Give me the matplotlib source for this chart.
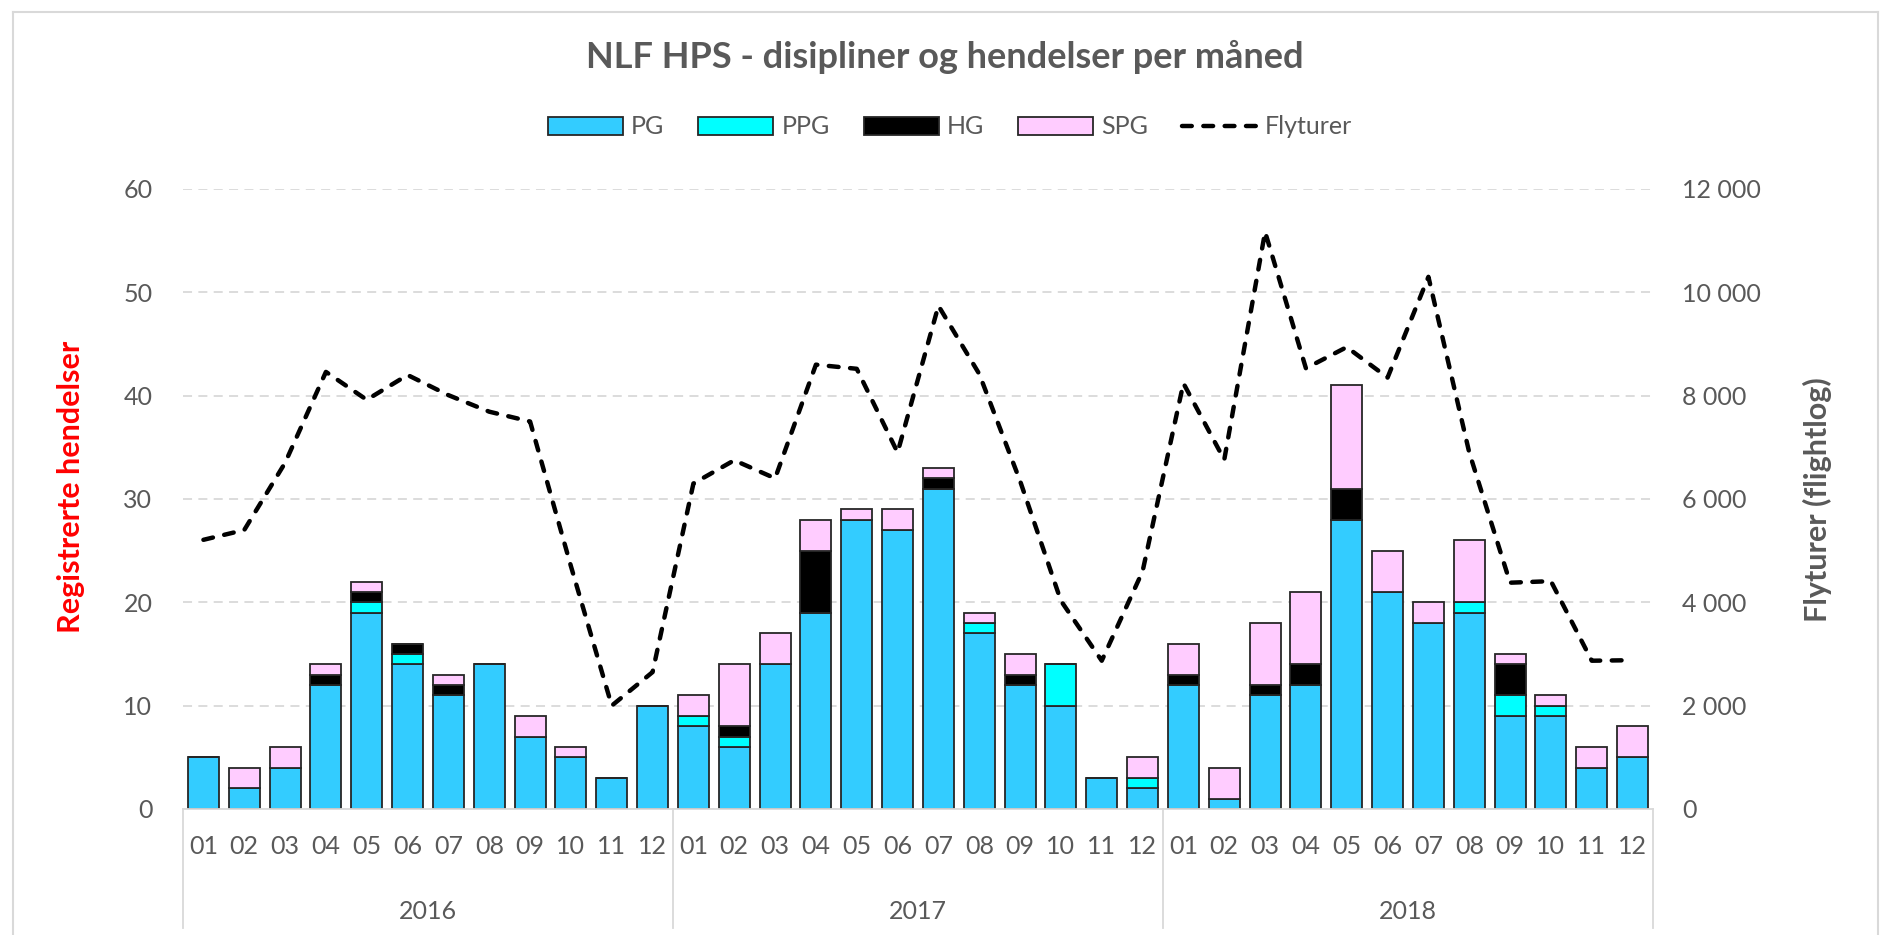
import matplotlib
matplotlib.use("Agg")
import matplotlib.pyplot as plt
from matplotlib.patches import Patch
from matplotlib.lines import Line2D
from matplotlib.ticker import FuncFormatter
import numpy as np

plt.rcParams['font.family'] = ['Lato', 'DejaVu Sans']

# data
years = ['2016', '2017', '2018']
months = ['01', '02', '03', '04', '05', '06', '07', '08', '09', '10', '11', '12']

pg = [5, 2, 4, 12, 19, 14, 11, 14, 7, 5, 3, 10,
      8, 6, 14, 19, 28, 27, 31, 17, 12, 10, 3, 2,
      12, 1, 11, 12, 28, 21, 18, 19, 9, 9, 4, 5]
ppg = [0, 0, 0, 0, 1, 1, 0, 0, 0, 0, 0, 0,
       1, 1, 0, 0, 0, 0, 0, 1, 0, 4, 0, 1,
       0, 0, 0, 0, 0, 0, 0, 1, 2, 1, 0, 0]
hg = [0, 0, 0, 1, 1, 1, 1, 0, 0, 0, 0, 0,
      0, 1, 0, 6, 0, 0, 1, 0, 1, 0, 0, 0,
      1, 0, 1, 2, 3, 0, 0, 0, 3, 0, 0, 0]
spg = [0, 2, 2, 1, 1, 0, 1, 0, 2, 1, 0, 0,
       2, 6, 3, 3, 1, 2, 1, 1, 2, 0, 0, 2,
       3, 3, 6, 7, 10, 4, 2, 6, 1, 1, 2, 3]
flyturer = [5210, 5400, 6700, 8460, 7920, 8400, 8010, 7690, 7500, 4700, 2000, 2650,
            6300, 6750, 6400, 8600, 8520, 6900, 9740, 8420, 6350, 4030, 2870, 4600,
            8240, 6760, 11170, 8530, 8940, 8350, 10300, 6900, 4380, 4410, 2870, 2880]

series = [('PG', pg, '#33CCFF'), ('PPG', ppg, '#00FFFF'),
          ('HG', hg, '#000000'), ('SPG', spg, '#FFCCFF')]

W, H = 1885, 935
fig = plt.figure(figsize=(W / 100, H / 100), dpi=100)
gray = '#595959'
light = '#D9D9D9'

# chart border
for xs, ys in [([13, 1878], [12, 12]), ([13, 13], [12, 935]), ([1878, 1878], [12, 935])]:
    fig.add_artist(Line2D([x / W for x in xs], [1 - y / H for y in ys], color=light, lw=1.5))

x0, x1, y0, y1 = 183, 1653, 189, 809
ax = fig.add_axes([x0 / W, 1 - y1 / H, (x1 - x0) / W, (y1 - y0) / H])

n = len(pg)
x = np.arange(n)
bottom = np.zeros(n)
for name, vals, col in series:
    v = np.array(vals, dtype=float)
    ax.bar(x, v, 0.76, bottom=bottom, color=col, edgecolor='#262626', linewidth=1.3, zorder=2)
    bottom += v

ax.set_xlim(-0.5, n - 0.5)
ax.set_ylim(0, 60)
ax.set_yticks(range(0, 61, 10))
ax.yaxis.grid(True, color=light, lw=1.3, linestyle=(0, (5, 3.5)))
ax.set_axisbelow(True)
for s in ['top', 'left', 'right']:
    ax.spines[s].set_visible(False)
ax.spines['bottom'].set_color(light)
ax.spines['bottom'].set_linewidth(1.3)
ax.tick_params(axis='y', length=0, pad=22, labelsize=18, labelcolor=gray)
ax.set_xticks(x)
ax.set_xticklabels(months * len(years))
ax.tick_params(axis='x', length=0, pad=19, labelsize=18, labelcolor=gray)

# year level of the category axis
for i, yr in enumerate(years):
    ax.text(i * 12 + 5.5, -0.166, yr, transform=ax.get_xaxis_transform(),
            ha='center', va='center', fontsize=18, color=gray)
for b in [-0.5, 11.5, 23.5, 35.5]:
    ax.plot([b, b], [0, -0.192], transform=ax.get_xaxis_transform(),
            color=light, lw=1.3, clip_on=False)

ax2 = ax.twinx()
ax2.plot(x, flyturer, color='black', lw=3.2, linestyle=(0, (2.2, 2.6)),
         dash_capstyle='round', zorder=3)
ax2.set_ylim(0, 12000)
ax2.set_yticks(range(0, 12001, 2000))
ax2.yaxis.set_major_formatter(FuncFormatter(lambda v, p: f'{int(v):,}'.replace(',', ' ')))
ax2.tick_params(axis='y', length=0, pad=21, labelsize=18, labelcolor=gray)
for s in ax2.spines.values():
    s.set_visible(False)

fig.text(945 / W, 1 - 57 / H, 'NLF HPS - disipliner og hendelser per måned',
         ha='center', va='center', fontsize=26, fontweight='bold', color=gray)
fig.text(71 / W, 1 - 487 / H, 'Registrerte hendelser', rotation=90,
         ha='center', va='center', fontsize=22, fontweight='bold', color='red')
fig.text(1817 / W, 1 - 500 / H, 'Flyturer (flightlog)', rotation=90,
         ha='center', va='center', fontsize=22, fontweight='bold', color=gray)

handles = [Patch(facecolor=c, edgecolor='#262626', linewidth=1.3, label=nm) for nm, _, c in series]
handles.append(Line2D([], [], color='black', lw=3.2, linestyle=(0, (2.2, 2.6)),
                      dash_capstyle='round', label='Flyturer'))
fig.legend(handles=handles, loc='center', bbox_to_anchor=(950 / W, 1 - 127 / H), ncol=5,
           frameon=False, fontsize=18, handlelength=3.0, handleheight=0.72,
           handletextpad=0.32, columnspacing=1.36, labelcolor=gray)

fig.savefig('out.png', dpi=100)
